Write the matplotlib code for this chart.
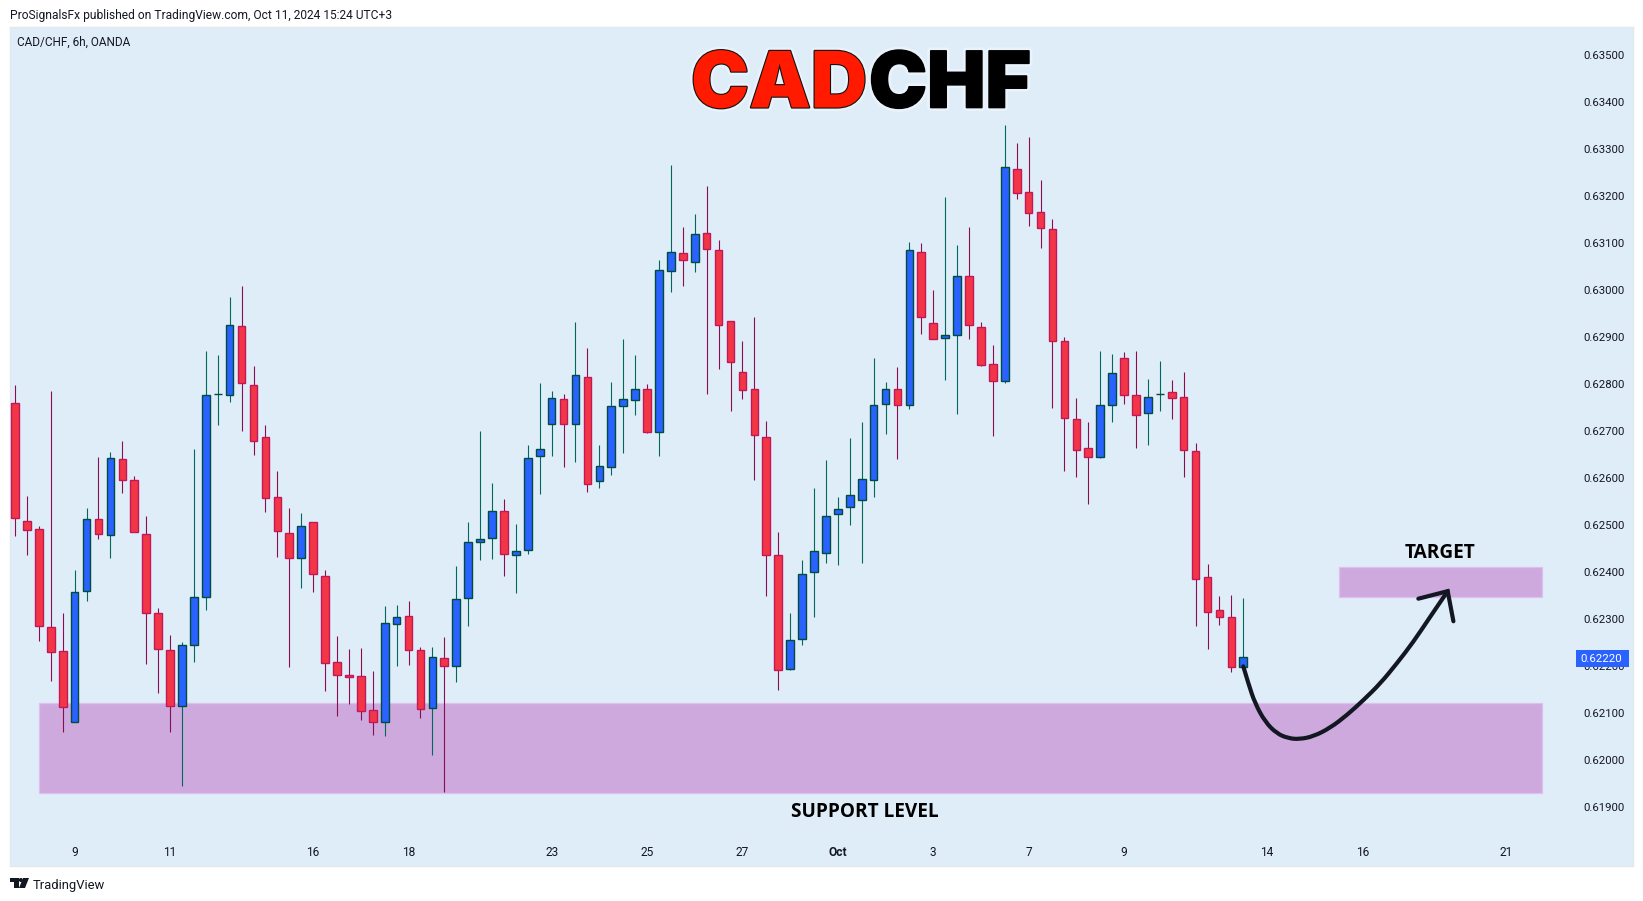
import matplotlib
matplotlib.use("Agg")
import matplotlib.pyplot as plt
from matplotlib.patches import Rectangle, Polygon, PathPatch, Ellipse
from matplotlib.path import Path
import matplotlib.patheffects as pe
import numpy as np

W, H = 1643, 901

opens = [.62760,.62509,.62492,.62283,.62232,.62080,.62359,.62513,.62478,.62641,.62596,.62481,.62313,.62234,.62115,.62245,.62347,.62778,.62777,.62924,
 .62798,.62686,.62560,.62483,.62430,.62507,.62392,.62209,.62181,.62179,.62107,.62081,.62290,.62307,.62234,.62110,.62216,.62200,.62345,.62464,
 .62472,.62530,.62437,.62447,.62647,.62715,.62768,.62715,.62815,.62593,.62623,.62752,.62766,.62790,.62698,.63040,.63079,.63060,.63121,.63085,
 .62933,.62826,.62790,.62688,.62437,.62193,.62257,.62400,.62440,.62524,.62538,.62553,.62596,.62757,.62789,.62755,.63081,.62930,.62898,.62903,
 .63030,.62922,.62843,.62806,.63258,.63209,.63166,.63130,.62892,.62726,.62664,.62645,.62755,.62855,.62777,.62738,.62778,.62783,.62773,.62658,
 .62390,.62318,.62303,.62198]
highs = [.62797,.62561,.62497,.62784,.62313,.62403,.62535,.62644,.62656,.62678,.62603,.62518,.62324,.62265,.62251,.62661,.62869,.62861,.62984,.63008,
 .62839,.62712,.62614,.62537,.62525,.62507,.62403,.62263,.62235,.62239,.62190,.62327,.62329,.62339,.62241,.62241,.62261,.62412,.62507,.62699,
 .62590,.62556,.62501,.62670,.62801,.62784,.62778,.62931,.62876,.62669,.62805,.62895,.62862,.62799,.63063,.63265,.63133,.63161,.63222,.63107,
 .62933,.62891,.62943,.62722,.62484,.62312,.62426,.62578,.62639,.62560,.62684,.62719,.62855,.62803,.62837,.63101,.63099,.62999,.63197,.63095,
 .63133,.62931,.62882,.63350,.63313,.63325,.63233,.63150,.62899,.62771,.62720,.62869,.62863,.62867,.62871,.62810,.62848,.62808,.62826,.62675,
 .62416,.62348,.62350,.62344]
lows = [.62476,.62436,.62254,.62168,.62059,.62080,.62338,.62470,.62429,.62568,.62485,.62204,.62142,.62059,.61944,.62208,.62319,.62712,.62761,.62700,
 .62649,.62527,.62432,.62197,.62366,.62357,.62146,.62093,.62119,.62085,.62053,.62051,.62200,.62202,.62089,.62010,.61931,.62165,.62285,.62426,
 .62427,.62391,.62355,.62438,.62566,.62647,.62623,.62633,.62570,.62578,.62606,.62653,.62734,.62696,.62647,.62996,.63008,.63038,.62778,.62832,
 .62742,.62768,.62596,.62349,.62149,.62191,.62245,.62304,.62419,.62415,.62500,.62419,.62560,.62693,.62640,.62747,.62906,.62896,.62808,.62736,
 .62896,.62838,.62689,.62802,.63193,.63136,.63089,.62748,.62615,.62602,.62544,.62642,.62719,.62757,.62663,.62670,.62742,.62726,.62602,.62285,
 .62236,.62287,.62187,.62198]
closes = [.62515,.62489,.62285,.62229,.62112,.62358,.62513,.62480,.62643,.62596,.62485,.62313,.62237,.62115,.62245,.62347,.62777,.62779,.62926,.62802,
 .62679,.62558,.62486,.62430,.62498,.62396,.62207,.62180,.62177,.62103,.62081,.62292,.62305,.62234,.62108,.62218,.62200,.62343,.62464,.62470,
 .62530,.62438,.62445,.62643,.62662,.62770,.62715,.62818,.62587,.62626,.62752,.62768,.62790,.62698,.63043,.63081,.63064,.63118,.63087,.62925,
 .62847,.62787,.62691,.62436,.62191,.62256,.62396,.62445,.62519,.62534,.62564,.62598,.62756,.62789,.62755,.63085,.62942,.62896,.62904,.63030,
 .62926,.62840,.62806,.63262,.63206,.63164,.63132,.62892,.62727,.62659,.62645,.62756,.62824,.62777,.62733,.62773,.62779,.62770,.62659,.62385,
 .62315,.62303,.62198,.62220]

x_tick_pos = [5,13,25,33,45,53,61,69,77,85,93,105,113,125]
x_tick_labels = ["9","11","16","18","23","25","27","Oct","3","7","9","14","16","21"]
y_ticks = [.619,.620,.621,.622,.623,.624,.625,.626,.627,.628,.629,.630,.631,.632,.633,.634,.635]

support_zone = (2.04, 128.05, .61930, .62122)
target_zone = (111.05, 128.05, .62346, .62411)
last_price = .62220

curve_x = [103.0,103.43,103.99,104.83,105.81,106.78,107.7,108.88,110.28,111.68,113.07,114.47,115.87,117.26,118.66,120.14]
curve_y = [.62199,.62162,.62120,.62081,.62056,.62046,.62044,.62050,.62068,.62095,.62127,.62162,.62205,.62251,.62304,.62359]
head_x = [117.68,120.14,120.62]
head_y = [.62343,.62359,.62295]

BG = "#DFEDF9"
BULL, BULL_EDGE, BULL_WICK = "#2962FF", "#004D40", "#00695C"
BEAR, BEAR_EDGE, BEAR_WICK = "#F23645", "#C2185B", "#880E4F"
ZONE, ZONE_EDGE = "#CDA9DE", "#E1BEF0"
UI = "Roboto"

fig = plt.figure(figsize=(W/100, H/100), dpi=100, facecolor="white")
L, R, T, B = 10, 1633, 26.9, 866.4
ax = fig.add_axes([L/W, 1-B/H, (R-L)/W, (B-T)/H], facecolor=BG)
ax.set_xlim(-0.42, 135.68)
ax.set_ylim(.617734, .635596)
for s in ax.spines.values():
    s.set_color("#E4E8EC")
    s.set_linewidth(1.0)

for x0, x1, y0, y1 in (support_zone, target_zone):
    ax.add_patch(Rectangle((x0, y0), x1-x0, y1-y0, facecolor=ZONE, edgecolor=ZONE_EDGE, lw=0.9, zorder=1))

idx = np.arange(len(opens))
o, h, l, c = map(np.array, (opens, highs, lows, closes))
up = c >= o
ax.vlines(idx[up], l[up], h[up], color=BULL_WICK, lw=0.8, zorder=2)
ax.vlines(idx[~up], l[~up], h[~up], color=BEAR_WICK, lw=0.8, zorder=2)
bot = np.minimum(o, c)
ht = np.maximum(np.abs(c-o), 0.00001)
ax.bar(idx[up], ht[up], bottom=bot[up], width=0.64, facecolor=BULL, edgecolor=BULL_EDGE, lw=1.0, zorder=3)
ax.bar(idx[~up], ht[~up], bottom=bot[~up], width=0.64, facecolor=BEAR, edgecolor=BEAR_EDGE, lw=1.0, zorder=3)

# smooth hand-drawn arrow: quadratic segments through the read-off guide points
pts = list(zip(curve_x, curve_y))
verts, codes = [pts[0]], [Path.MOVETO]
for a, b in zip(pts[1:-1], pts[2:]):
    verts += [a, ((a[0]+b[0])/2, (a[1]+b[1])/2)]
    codes += [Path.CURVE3, Path.CURVE3]
verts.append(pts[-1]); codes.append(Path.LINETO)
ax.add_patch(PathPatch(Path(verts, codes), facecolor="none", edgecolor="#131722", lw=3.0, capstyle="round", joinstyle="round", zorder=4))
ax.plot(head_x, head_y, color="#131722", lw=3.0, solid_capstyle="round", solid_joinstyle="miter", zorder=4)

ax.set_xticks(x_tick_pos, x_tick_labels)
ax.set_yticks(y_ticks, [f"{v:.5f}" for v in y_ticks])
ax.yaxis.tick_right()
ax.tick_params(axis="y", length=0, pad=-35.5, labelsize=8.2, labelcolor="#131722")
ax.tick_params(axis="x", length=0, pad=-15.0, labelsize=8.6, labelcolor="#131722")
for t in ax.get_xticklabels() + ax.get_yticklabels():
    t.set_fontfamily(UI)
for t in ax.get_xticklabels():
    if t.get_text() == "Oct":
        t.set_fontweight("bold")
for t in ax.get_yticklabels():
    t.set_horizontalalignment("left")

yt = ax.get_yaxis_transform()
ax.add_patch(Rectangle((0.9649, .62198), 0.0325, .00036, transform=yt, facecolor=BULL, edgecolor="none", zorder=6, clip_on=False))
ax.annotate(f"{last_price:.5f}", xy=(0.9675, last_price), xycoords=yt, xytext=(0, -1.8), textcoords="offset points",
            color="white", fontsize=8.2, family=UI, va="center", ha="left", zorder=7)

def fx(px): return px/W
def fy(py): return 1-py/H

fig.text(fx(10), fy(15), "ProSignalsFx published on TradingView.com, Oct 11, 2024 15:24 UTC+3",
         family=UI, fontsize=8.65, color="#131722", va="center", ha="left")
fig.text(fx(17), fy(42.5), "CAD/CHF, 6h, OANDA", family=UI, fontsize=8.5, color="#131722", va="center", ha="left")

title_font = dict(family="Inter", fontweight=900, fontsize=56, va="center_baseline")
fig.text(fx(691), fy(79), "CAD", color="#FF1A00", ha="left", zorder=10,
         path_effects=[pe.withStroke(linewidth=5, foreground="#FFFFFF", alpha=0.35), pe.withStroke(linewidth=1.6, foreground="#111111")], **title_font)
fig.text(fx(869), fy(79), "CHF", color="black", ha="left", zorder=10,
         path_effects=[pe.withStroke(linewidth=5, foreground="#FFFFFF", alpha=0.35), pe.withStroke(linewidth=1.2, foreground="black")], **title_font)

fig.text(fx(864.5), fy(812), "SUPPORT LEVEL", family="Open Sans", fontweight="bold", fontsize=13.7, color="black", ha="center", va="center", zorder=10)
fig.text(fx(1440), fy(553), "TARGET", family="Open Sans", fontweight="bold", fontsize=13.7, color="black", ha="center", va="center", zorder=10)

fig.text(fx(33), fy(885), "TradingView", family=UI, fontsize=9.4, color="#131722", va="center", ha="left")
logo = [
    [(10,878),(18.5,878),(18.5,888),(14,888),(14,882),(10,882)],
    [(23,878),(29,878),(25,888),(19,888)],
]
for pts_ in logo:
    fig.add_artist(Polygon([(fx(a), fy(b)) for a, b in pts_], closed=True, transform=fig.transFigure, facecolor="#131722", edgecolor="none"))
fig.add_artist(Ellipse((fx(20.8), fy(880)), 4.0/W, 4.0/H, transform=fig.transFigure, facecolor="#131722", edgecolor="none"))

fig.savefig("out.png", dpi=100, facecolor="white")
